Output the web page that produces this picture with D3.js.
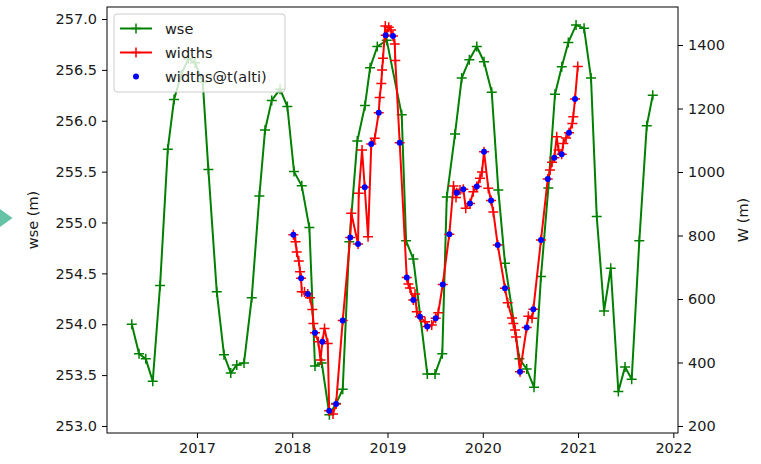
<!DOCTYPE html>
<html>
<head>
<meta charset="utf-8">
<script src="https://cdn.jsdelivr.net/npm/d3@7"></script>
<style>
body{margin:0;background:#fff;}
svg{display:block;font-family:"DejaVu Sans",sans-serif;}
</style>
</head>
<body>
<svg id="chart" width="761" height="464"></svg>
<script>
// water surface elevation (decimal year, m)
var wseDates = [2016.316,2016.392,2016.463,2016.536,2016.613,2016.694,2016.760,2016.834,2016.910,2016.980,
	2017.061,2017.120,2017.208,2017.284,2017.355,2017.418,2017.494,2017.575,2017.655,2017.715,2017.785,2017.872,2017.949,
	2018.019,2018.100,2018.180,2018.239,2018.310,2018.390,2018.460,2018.530,2018.599,2018.683,2018.764,2018.817,2018.893,2018.992,
	2019.149,2019.195,2019.271,2019.418,2019.499,2019.575,2019.622,2019.709,2019.779,2019.859,2019.937,
	2020.013,2020.094,2020.163,2020.233,2020.384,2020.461,2020.538,2020.611,2020.688,2020.758,2020.829,2020.898,2020.979,
	2021.063,2021.136,2021.196,2021.273,2021.343,2021.423,2021.493,2021.563,2021.643,2021.721,2021.784];
var wseValues = [254.00,253.71,253.66,253.44,254.38,255.72,256.21,256.45,256.61,256.57,
	256.38,255.52,254.32,253.70,253.52,253.60,253.62,254.26,255.26,255.91,256.20,256.31,256.14,
	255.50,255.36,254.95,253.59,253.62,253.11,253.22,253.36,254.81,255.80,256.15,256.52,256.73,256.79,
	256.06,254.82,254.64,253.51,253.51,253.71,255.25,255.87,256.42,256.60,256.73,
	256.58,256.28,255.32,254.60,253.66,253.56,253.38,254.47,255.34,256.26,256.53,256.77,256.94,
	256.91,256.42,255.06,254.13,254.55,253.34,253.58,253.46,254.82,255.95,256.25];

// river widths (decimal year, m)
var widthDates = [2018.012,2018.035,2018.047,2018.069,2018.082,2018.093,2018.100,2018.129,2018.163,2018.187,
	2018.211,2018.222,2018.239,2018.274,2018.297,2018.316,2018.339,2018.373,2018.388,2018.428,
	2018.460,2018.530,2018.609,2018.620,2018.691,2018.698,2018.733,2018.761,2018.796,2018.830,
	2018.866,2018.908,2018.918,2018.935,2018.943,2018.953,2018.977,2018.981,2019.013,2019.037,
	2019.058,2019.076,2019.082,2019.128,2019.202,2019.219,2019.236,2019.271,2019.289,2019.307,
	2019.341,2019.394,2019.418,2019.464,2019.506,2019.533,2019.580,2019.649,2019.693,2019.719,
	2019.727,2019.761,2019.796,2019.821,2019.866,2019.901,2019.937,2019.971,2019.992,2020.013,
	2020.058,2020.087,2020.111,2020.157,2020.233,2020.262,2020.307,2020.321,2020.339,2020.349,
	2020.391,2020.461,2020.478,2020.517,2020.531,2020.611,2020.682,2020.706,2020.727,2020.751,
	2020.776,2020.795,2020.828,2020.845,2020.874,2020.905,2020.940,2020.950,2020.968,2020.997];
var widthValues = [802,780,748,720,686,665,623,622,616,604,
	567,523,494,465,408,465,507,460,248,238,
	269,532,794,870,773,933,1069,952,796,1088,
	1106,1187,1235,1279,1321,1358,1460,1431,1456,1447,
	1428,1403,1351,1092,668,647,635,597,616,560,
	544,528,513,518,539,557,646,804,956,920,
	935,943,946,886,901,938,954,980,1000,1064,
	949,910,874,770,634,588,540,523,502,480,
	371,510,546,539,568,786,978,1006,1031,1045,
	1111,1069,1056,1090,1107,1124,1153,1174,1230,1332];

// widths at altimetry dates
var altiDates = [2018.012,2018.093,2018.163,2018.239,2018.316,2018.388,2018.460,2018.530,2018.609,2018.691,
	2018.761,2018.830,2018.908,2018.981,2019.058,2019.128,2019.202,2019.271,2019.341,2019.418,
	2019.506,2019.580,2019.649,2019.727,2019.796,2019.866,2019.937,2020.013,2020.087,2020.157,
	2020.233,2020.391,2020.461,2020.531,2020.611,2020.682,2020.751,2020.828,2020.905,2020.968];
var altiWidths = [802,665,616,494,465,248,269,532,794,773,
	952,1088,1187,1431,1428,1092,668,597,544,513,
	539,646,804,935,946,901,954,1064,910,770,
	634,371,510,568,786,978,1045,1056,1124,1230];

var xTicks = [2017,2018,2019,2020,2021,2022];
var wseTicks = [253.0,253.5,254.0,254.5,255.0,255.5,256.0,256.5,257.0];
var wTicks = [200,400,600,800,1000,1200,1400];

var plotLeft = 107, plotRight = 678, plotTop = 7, plotBottom = 433;
var fontSize = 14.5;
var textColor = "#1a1a1a";

var svg = d3.select("#chart");
svg.append("rect").attr("width",761).attr("height",464).attr("fill","#fff");

// small marker left of the chart (part of the screenshot)
svg.append("path").attr("d","M0,209 L12.5,218 L0,227 Z").attr("fill","#66c2a5");

var x = d3.scaleLinear().domain([2016.056,2022.049]).range([plotLeft,plotRight]);
var yW = d3.scaleLinear().domain([252.931,257.118]).range([plotBottom,plotTop]);
var yR = d3.scaleLinear().domain([177.95,1519.7]).range([plotBottom,plotTop]);

var plot = svg.append("g");
var plus = "M-5,0H5M0,-5V5";

function drawSeries(dates,values,scale,color)
{
	var pts = dates.map(function(d,i){return [x(d),scale(values[i])];});
	plot.append("path")
		.attr("d",d3.line()(pts))
		.attr("fill","none")
		.attr("stroke",color)
		.attr("stroke-width",2)
		.attr("stroke-linejoin","round");
	plot.selectAll(null).data(pts).enter().append("path")
		.attr("d",plus)
		.attr("transform",function(p){return "translate("+p[0]+","+p[1]+")";})
		.attr("stroke",color)
		.attr("stroke-width",1.5)
		.attr("fill","none");
}

drawSeries(wseDates,wseValues,yW,"#008000");
drawSeries(widthDates,widthValues,yR,"#ff0000");

plot.selectAll(null).data(altiDates).enter().append("circle")
	.attr("cx",function(d){return x(d);})
	.attr("cy",function(d,i){return yR(altiWidths[i]);})
	.attr("r",3)
	.attr("fill","#0000ff");

// frame
svg.append("rect")
	.attr("x",plotLeft).attr("y",plotTop)
	.attr("width",plotRight-plotLeft).attr("height",plotBottom-plotTop)
	.attr("fill","none").attr("stroke","#000").attr("stroke-width",1);

// axes
function styleAxis(g)
{
	g.select(".domain").remove();
	g.selectAll(".tick line").attr("stroke","#000").attr("stroke-width",1);
	g.selectAll(".tick text").attr("fill",textColor).attr("font-size",fontSize).attr("font-family","DejaVu Sans");
}
svg.append("g").attr("transform","translate(0,"+plotBottom+")")
	.call(d3.axisBottom(x).tickValues(xTicks).tickFormat(d3.format("d")).tickSize(5).tickPadding(5))
	.call(styleAxis);
svg.append("g").attr("transform","translate("+plotLeft+",0)")
	.call(d3.axisLeft(yW).tickValues(wseTicks).tickFormat(d3.format(".1f")).tickSize(5).tickPadding(5))
	.call(styleAxis);
svg.append("g").attr("transform","translate("+plotRight+",0)")
	.call(d3.axisRight(yR).tickValues(wTicks).tickFormat(d3.format("d")).tickSize(5).tickPadding(5))
	.call(styleAxis);

// axis titles
svg.append("text").text("wse (m)")
	.attr("transform","translate(38,"+((plotTop+plotBottom)/2)+") rotate(-90)")
	.attr("text-anchor","middle").attr("font-size",fontSize).attr("fill",textColor);
svg.append("text").text("W (m)")
	.attr("transform","translate(748,"+((plotTop+plotBottom)/2)+") rotate(-90)")
	.attr("text-anchor","middle").attr("font-size",fontSize).attr("fill",textColor);

// legend
var legend = svg.append("g");
legend.append("rect")
	.attr("x",114).attr("y",14).attr("width",171).attr("height",78).attr("rx",3)
	.attr("fill","#fff").attr("fill-opacity",0.8).attr("stroke","#cccccc");
var legendItems = [["wse","#008000","line"],["widths","#ff0000","line"],["widths@t(alti)","#0000ff","dot"]];
legendItems.forEach(function(item,i)
{
	var ly = 28.5 + i*24;
	if(item[2]=="line")
	{
		legend.append("line").attr("x1",120).attr("x2",152).attr("y1",ly).attr("y2",ly)
			.attr("stroke",item[1]).attr("stroke-width",2);
		legend.append("path").attr("d",plus).attr("transform","translate(136,"+ly+")")
			.attr("stroke",item[1]).attr("stroke-width",1.5);
	}
	else
	{
		legend.append("circle").attr("cx",136).attr("cy",ly).attr("r",3).attr("fill",item[1]);
	}
	legend.append("text").text(item[0]).attr("x",165).attr("y",ly).attr("dy","0.35em")
		.attr("font-size",fontSize).attr("fill",textColor);
});
</script>
</body>
</html>
